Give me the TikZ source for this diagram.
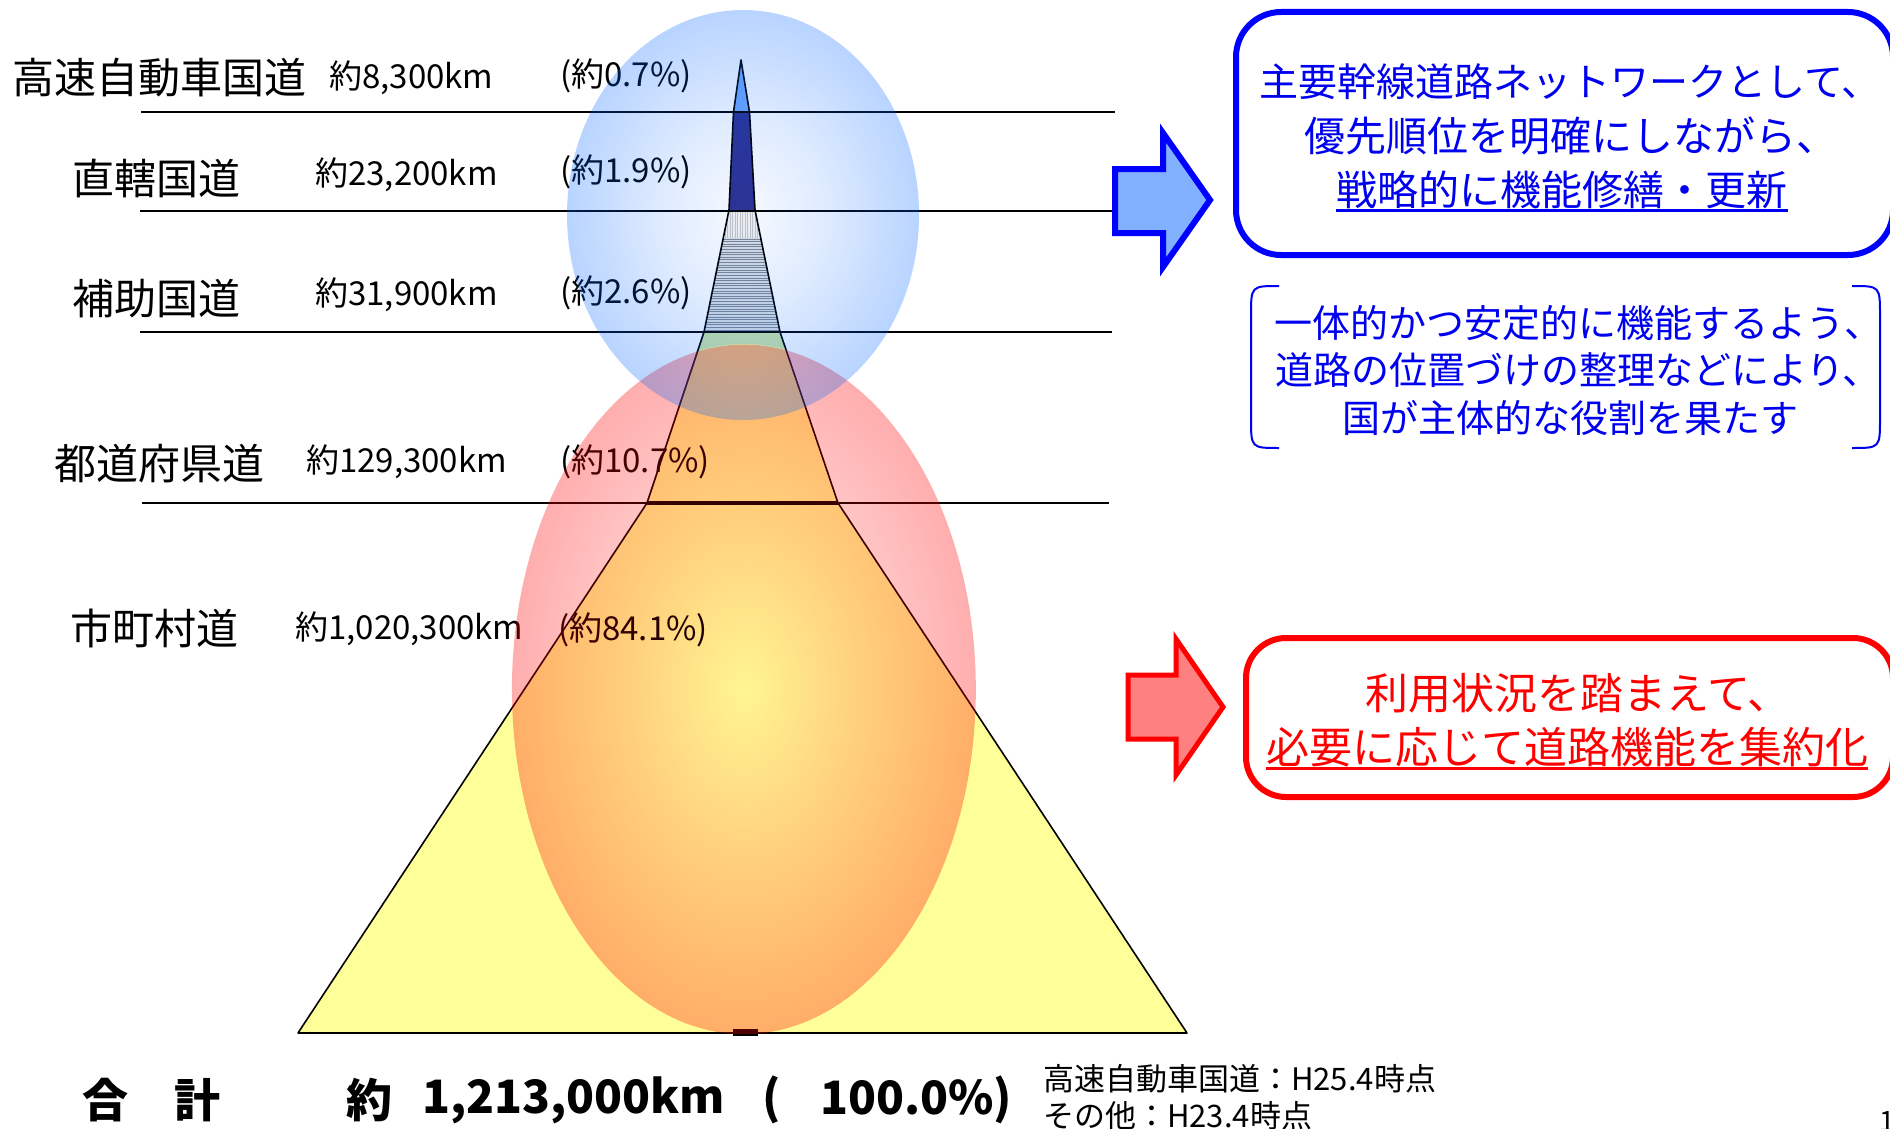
\documentclass[tikz,border=0pt]{standalone}
\usepackage{fontspec}
\setmainfont{Noto Sans CJK JP}
\usetikzlibrary{fadings,calc}
\pgfdeclareradialshading{redfadeshade}{\pgfpointorigin}{%
  color(0bp)=(pgftransparent!96);
  color(12bp)=(pgftransparent!82);
  color(25bp)=(pgftransparent!68);
  color(50bp)=(pgftransparent!68)}
\pgfdeclarefading{redfade}{\pgfuseshading{redfadeshade}}
\pgfdeclareradialshading{bluefadeshade}{\pgfpointorigin}{%
  color(0bp)=(pgftransparent!97);
  color(12bp)=(pgftransparent!87);
  color(25bp)=(pgftransparent!72);
  color(50bp)=(pgftransparent!72)}
\pgfdeclarefading{bluefade}{\pgfuseshading{bluefadeshade}}
\definecolor{topblue}{HTML}{6FA8FF}
\definecolor{navyseg}{HTML}{2E3192}
\definecolor{greyseg}{HTML}{DCDFE3}
\definecolor{stripe}{HTML}{7D8794}
\definecolor{greenseg}{HTML}{CDE6A5}
\definecolor{yellowseg}{HTML}{FFFF99}
\definecolor{ovred}{HTML}{FF0000}
\definecolor{ovblue}{HTML}{0066FF}
\definecolor{txtblue}{HTML}{0000F0}
\definecolor{arrblue}{HTML}{80B0FF}
\definecolor{arrred}{HTML}{FF8080}
\tikzset{
  catlabel/.style={anchor=west, inner sep=0pt, font=\fontsize{42}{48}\selectfont},
  numlabel/.style={anchor=west, inner sep=0pt, font=\fontsize{33}{38}\selectfont},
  rowline/.style={line width=2.2pt, black},
  bluetext/.style={inner sep=0pt, text=txtblue, font=\fontsize{41}{48}\selectfont},
  bracktext/.style={inner sep=0pt, text=txtblue, font=\fontsize{38}{44}\selectfont},
  redtext/.style={inner sep=0pt, text=red, font=\fontsize{43}{48}\selectfont},
  sumtext/.style={anchor=west, inner sep=0pt, font=\fontsize{46}{52}\selectfont\bfseries},
  notetext/.style={anchor=west, inner sep=0pt, font=\fontsize{31}{36}\selectfont},
  blockarrow/.style={line width=6pt, line join=miter, miter limit=10},
  bracket/.style={txtblue, line width=2pt},
}
\begin{document}
\begin{tikzpicture}[x=1pt,y=-1pt]
\useasboundingbox (0,0) rectangle (1890,1129);
\fill[white] (0,0) rectangle (1890,1129);
% pyramid coordinates
\coordinate (A) at (741,60);
\coordinate (L1l) at (733.5,112); \coordinate (L1r) at (749.5,112);
\coordinate (L2l) at (729,210); \coordinate (L2r) at (755,210);
\coordinate (L3l) at (704,332); \coordinate (L3r) at (780,332);
\coordinate (L4l) at (647,503); \coordinate (L4r) at (838,503);
\coordinate (Bl) at (298,1033); \coordinate (Br) at (1187,1033);
% segments
\fill[topblue] (A) -- (L1r) -- (L1l) -- cycle;
\fill[navyseg] (L1l) -- (L1r) -- (L2r) -- (L2l) -- cycle;
\fill[greyseg] (L2l) -- (L2r) -- (L3r) -- (L3l) -- cycle;
\begin{scope}
  \clip (L2l) -- (L2r) -- (L3r) -- (L3l) -- cycle;
  \fill[gray!10] (700,210) rectangle (785,238);
  \foreach \x in {700,702.5,...,785} \draw[gray!45, line width=0.6pt] (\x,210) -- (\x,238);
  \foreach \y in {239,241.6,...,332} \draw[stripe, line width=0.9pt] (700,\y) -- (785,\y);
\end{scope}
\fill[greenseg] (L3l) -- (L3r) -- (L4r) -- (L4l) -- cycle;
\begin{scope}
  \clip (L3l) -- (L3r) -- (L4r) -- (L4l) -- cycle;
  \fill[yellowseg] (744,689) ellipse [x radius=232, y radius=345];
\end{scope}
\fill[yellowseg] (L4l) -- (L4r) -- (Br) -- (Bl) -- cycle;
\draw[line width=1.6pt, line join=round] (A) -- (L1r) -- (L2r) -- (L3r) -- (L4r) -- (Br) -- (Bl) -- (L4l) -- (L3l) -- (L2l) -- (L1l) -- cycle;
\draw[line width=4pt] (L4l) -- (L4r);
\fill (733,1029) rectangle (758,1036);
% row lines
\coordinate (h1a) at (141,112); \coordinate (h1b) at (1115,112);
\coordinate (h2a) at (140,211); \coordinate (h2b) at (1121,211);
\coordinate (h3a) at (140,332); \coordinate (h3b) at (1112,332);
\coordinate (h4a) at (142,503); \coordinate (h4b) at (1109,503);
\draw[rowline] (h1a) -- (h1b);
\draw[rowline] (h2a) -- (h2b);
\draw[rowline] (h3a) -- (h3b);
\draw[rowline] (h4a) -- (h4b);
% labels
\node[catlabel] (c1) at (12,78) {高速自動車国道};
\node[numlabel] (k1) at (329,78) {約8,300km};
\node[numlabel] (p1) at (560,76) {(約0.7\%)};
\node[catlabel] (c2) at (72,178) {直轄国道};
\node[numlabel] (k2) at (315,175) {約23,200km};
\node[numlabel] (p2) at (560,172) {(約1.9\%)};
\node[catlabel] (c3) at (72,299) {補助国道};
\node[numlabel] (k3) at (315,295) {約31,900km};
\node[numlabel] (p3) at (560,293) {(約2.6\%)};
\node[catlabel] (c4) at (54,464) {都道府県道};
\node[numlabel] (k4) at (306,462) {約129,300km};
\node[numlabel] (p4) at (560,462) {(約10.7\%)};
\node[catlabel] (c5) at (70,628) {市町村道};
\node[numlabel] (k5) at (295,629) {約1,020,300km};
\node[numlabel] (p5) at (558,630) {(約84.1\%)};
% translucent ellipses
\fill[ovred, path fading=redfade] (744,689) ellipse [x radius=232, y radius=345];
\fill[ovblue, path fading=bluefade] (743,215) ellipse [x radius=176, y radius=205];
% blue arrow and box
\draw[blockarrow, draw=blue, fill=arrblue] (1115,169) -- (1163,169) -- (1163,133) -- (1210,200) -- (1163,267) -- (1163,233) -- (1115,233) -- cycle;
\draw[draw=blue, line width=6pt, rounded corners=45pt] (1236,12) rectangle (1893,255);
\node[bluetext, font=\fontsize{39}{48}\selectfont] (b1) at (1570,82) {主要幹線道路ネットワークとして、};
\node[bluetext] (b2) at (1571,136) {優先順位を明確にしながら、};
\node[bluetext] (b3) at (1562,190) {戦略的に機能修繕・更新};
\draw[txtblue, line width=3.2pt] ([yshift=-5pt]b3.base west) -- ([yshift=-5pt]b3.base east);
% bracket box
\draw[bracket] (1279,286) .. controls (1251,286) .. (1251,316) -- (1251,418) .. controls (1251,448) .. (1279,448);
\draw[bracket] (1852,286) .. controls (1880,286) .. (1880,316) -- (1880,418) .. controls (1880,448) .. (1852,448);
\node[bracktext] (t1) at (1578,323) {一体的かつ安定的に機能するよう、};
\node[bracktext] (t2) at (1578,370) {道路の位置づけの整理などにより、};
\node[bracktext] (t3) at (1570,418) {国が主体的な役割を果たす};
% red arrow and box
\draw[blockarrow, line width=5pt, draw=red, fill=arrred] (1128,675) -- (1176,675) -- (1176,639) -- (1223,707) -- (1176,775) -- (1176,739) -- (1128,739) -- cycle;
\draw[draw=red, line width=6pt, rounded corners=40pt] (1246,638) rectangle (1893,797);
\node[redtext] (r1) at (1578,693) {利用状況を踏まえて、};
\node[redtext] (r2) at (1567,747) {必要に応じて道路機能を集約化};
\draw[red, line width=3.5pt] ([yshift=-5pt]r2.base west) -- ([yshift=-5pt]r2.base east);
% totals
\node[sumtext] (s1) at (82,1100) {合　計};
\node[sumtext] (s2) at (346,1100) {約};
\node[sumtext] (s3) at (422,1100) {1,213,000km};
\node[sumtext] (s4) at (762,1100) {(};
\node[sumtext] (s5) at (820,1100) {100.0\%)};
\node[notetext] (n1) at (1043,1079) {高速自動車国道：H25.4時点};
\node[notetext] (n2) at (1043,1116) {その他：H23.4時点};
\node[anchor=north west, inner sep=0pt, font=\fontsize{28}{30}\selectfont] (pg) at (1879,1111) {1};
\end{tikzpicture}
\end{document}
